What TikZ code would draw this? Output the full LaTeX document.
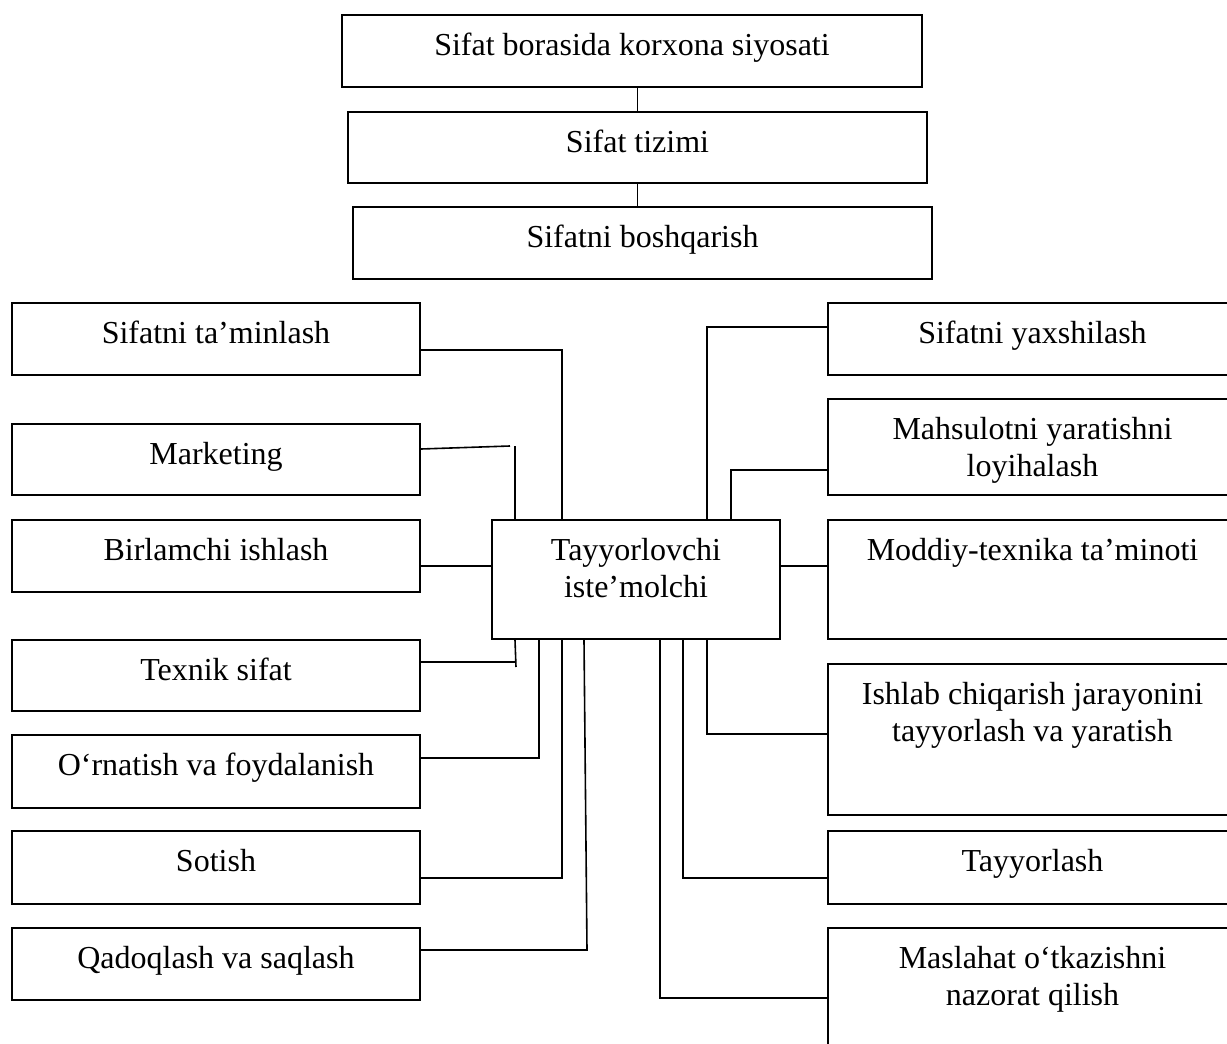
\documentclass[tikz,border=0pt]{standalone}
\usepackage{fontspec}
\setmainfont{Liberation Serif}
\tikzset{
  txt/.style={anchor=base, yshift=-20.5pt, inner sep=0pt, font=\fontsize{16}{18.5}\selectfont},
  box/.style={draw, line width=1pt, anchor=north west, inner sep=0pt,
    label={[txt]north:{\begin{tabular}[t]{@{}c@{}}#1\end{tabular}}}},
  link/.style={line width=0.8pt},
}
\begin{document}
\begin{tikzpicture}[x=0.5pt, y=-0.5pt]
\useasboundingbox (0,0) rectangle (1227,1044);
\clip (0,0) rectangle (1227,1044);
% top chain
\node[box={Sifat borasida korxona siyosati}, minimum width=290pt, minimum height=36pt] (siyosat) at (341,14) {};
\node[box={Sifat tizimi}, minimum width=289.5pt, minimum height=35.5pt] (tizim) at (347,111) {};
\node[box={Sifatni boshqarish}, minimum width=289.5pt, minimum height=36pt] (boshqar) at (352,206) {};
\draw[link] (siyosat.south -| tizim.north) -- (tizim.north);
\draw[link] (tizim.south) -- (boshqar.north -| tizim.south);
% centre
\node[box={Tayyorlovchi\\iste’molchi}, minimum width=144pt, minimum height=59.5pt] (ctr) at (491,519) {};
% left column
\node[box={Sifatni ta’minlash}, minimum width=204pt, minimum height=36pt] (taminlash) at (11,302) {};
\node[box={Marketing}, minimum width=204pt, minimum height=35.5pt] (marketing) at (11,423) {};
\node[box={Birlamchi ishlash}, minimum width=204pt, minimum height=36pt] (birlamchi) at (11,519) {};
\node[box={Texnik sifat}, minimum width=204pt, minimum height=35.5pt] (texnik) at (11,639) {};
\node[box={O‘rnatish va foydalanish}, minimum width=204pt, minimum height=36.5pt] (ornatish) at (11,734) {};
\node[box={Sotish}, minimum width=204pt, minimum height=36.5pt] (sotish) at (11,830) {};
\node[box={Qadoqlash va saqlash}, minimum width=204pt, minimum height=36pt] (qadoq) at (11,927) {};
% right column
\node[box={Sifatni yaxshilash}, minimum width=204.5pt, minimum height=36pt] (yaxshi) at (827,302) {};
\node[box={Mahsulotni yaratishni\\loyihalash}, minimum width=204.5pt, minimum height=48pt] (mahsulot) at (827,398) {};
\node[box={Moddiy-texnika ta’minoti}, minimum width=204.5pt, minimum height=59.5pt] (moddiy) at (827,519) {};
\node[box={Ishlab chiqarish jarayonini\\tayyorlash va yaratish}, minimum width=204.5pt, minimum height=75.5pt] (ishlab) at (827,663) {};
\node[box={Tayyorlash}, minimum width=204.5pt, minimum height=36.5pt] (tayyor) at (827,830) {};
\node[box={Maslahat o‘tkazishni\\nazorat qilish}, minimum width=204.5pt, minimum height=75.5pt] (maslahat) at (827,927) {};
% left links
\draw[link] (taminlash.east |- 0,350) -| (ctr.north -| 562,0);
\draw[link] (marketing.east |- 0,449) -- (510,446) (515,446) -- (ctr.north -| 515,0);
\draw[link] (birlamchi.east |- 0,566) -- (ctr.west |- 0,566);
\draw[link] (texnik.east |- 0,662) -- (515,662) (ctr.south -| 515,0) -- (516,667);
\draw[link] (ornatish.east |- 0,758) -| (ctr.south -| 539,0);
\draw[link] (sotish.east |- 0,878) -| (ctr.south -| 562,0);
\draw[link] (qadoq.east |- 0,950) -- (587,950) -- (ctr.south -| 584,0);
% right links
\draw[link] (yaxshi.west |- 0,327) -| (ctr.north -| 707,0);
\draw[link] (mahsulot.west |- 0,470) -| (ctr.north -| 731,0);
\draw[link] (ctr.east |- 0,566) -- (moddiy.west |- 0,566);
\draw[link] (ctr.south -| 707,0) |- (ishlab.west |- 0,734);
\draw[link] (ctr.south -| 683,0) |- (tayyor.west |- 0,878);
\draw[link] (ctr.south -| 660,0) |- (maslahat.west |- 0,998);
\end{tikzpicture}
\end{document}
